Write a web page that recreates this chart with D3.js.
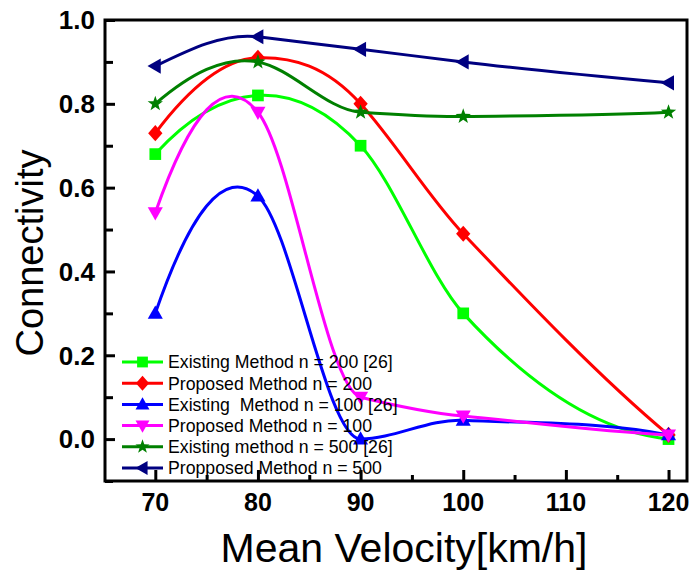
<!DOCTYPE html>
<html>
<head>
<meta charset="utf-8">
<script src="https://cdn.jsdelivr.net/npm/d3@7"></script>
<style>
  html, body { margin: 0; padding: 0; background: #fff; }
  svg { display: block; font-family: "Liberation Sans", Arial, Helvetica, sans-serif; }
  text { white-space: pre; }
</style>
</head>
<body>
<svg id="chart" width="691" height="576"></svg>
<script>
// ---- data ----
const velocities = [70, 80, 90, 100, 120];
const existing200 = [0.68, 0.82, 0.70, 0.30, 0.00];
const proposed200 = [0.73, 0.91, 0.80, 0.49, 0.01];
const existing100 = [0.30, 0.58, 0.00, 0.045, 0.01];
const proposed100 = [0.54, 0.78, 0.10, 0.055, 0.01];
const existing500 = [0.80, 0.90, 0.78, 0.77, 0.78];
const proposed500 = [0.89, 0.96, 0.93, 0.90, 0.85];
const seriesNames = [
  "Existing Method n = 200 [26]",
  "Proposed Method n = 200",
  "Existing  Method n = 100 [26]",
  "Proposed Method n = 100",
  "Existing method n = 500 [26]",
  "Propposed Method n = 500"
];
const xTicks = [70, 80, 90, 100, 110, 120];
const yTicks = [0.0, 0.2, 0.4, 0.6, 0.8, 1.0];

const seriesValues = [existing200, proposed200, existing100, proposed100, existing500, proposed500];
const colors = ["#00ff00", "#ff0000", "#0000ff", "#ff00ff", "#008000", "#000080"];
const symbols = ["square", "diamond", "triUp", "triDown", "star", "triLeft"];

// ---- layout ----
const svg = d3.select("#chart");
const L = 105, R = 687, T = 20, B = 481;
const x = d3.scaleLinear().domain([65.1, 121.8]).range([L, R]);
const y = d3.scaleLinear().domain([-0.1, 1.0]).range([B, T]);

// Akima-style spline as a custom d3 curve (x-monotone points)
function AkimaCurve(context) { this._context = context; }
AkimaCurve.prototype = {
  areaStart() {}, areaEnd() {},
  lineStart() { this._xs = []; this._ys = []; },
  point(px, py) { this._xs.push(+px); this._ys.push(+py); },
  lineEnd() {
    const xs = this._xs, ys = this._ys, n = xs.length, ctx = this._context;
    if (!n) return;
    ctx.moveTo(xs[0], ys[0]);
    if (n < 3) { for (let i = 1; i < n; i++) ctx.lineTo(xs[i], ys[i]); return; }
    const ns = n - 1, m = new Array(ns + 4);
    for (let k = 0; k < ns; k++) m[k + 2] = (ys[k + 1] - ys[k]) / (xs[k + 1] - xs[k]);
    m[1] = 2 * m[2] - m[3]; m[0] = 2 * m[1] - m[2];
    m[ns + 2] = 2 * m[ns + 1] - m[ns]; m[ns + 3] = 2 * m[ns + 2] - m[ns + 1];
    const tan = new Array(n);
    for (let i = 0; i < n; i++) {
      const mL2 = m[i], mL = m[i + 1], mR = m[i + 2], mR2 = m[i + 3];
      const w1 = Math.abs(mR2 - mR), w2 = Math.abs(mL - mL2);
      tan[i] = (w1 + w2) > 1e-12 ? (w1 * mL + w2 * mR) / (w1 + w2) : (mL + mR) / 2;
    }
    for (let i = 0; i < n - 1; i++) {
      const h = xs[i + 1] - xs[i];
      ctx.bezierCurveTo(xs[i] + h / 3, ys[i] + tan[i] * h / 3,
                        xs[i + 1] - h / 3, ys[i + 1] - tan[i + 1] * h / 3,
                        xs[i + 1], ys[i + 1]);
    }
  }
};
const akima = ctx => new AkimaCurve(ctx);

// marker paths
function markerPath(type, s) {
  const p = d3.path();
  switch (type) {
    case "square": p.rect(-s * 0.45, -s * 0.45, s * 0.9, s * 0.9); break;
    case "diamond": p.moveTo(0, -s * 0.62); p.lineTo(s * 0.55, 0); p.lineTo(0, s * 0.62); p.lineTo(-s * 0.55, 0); p.closePath(); break;
    case "triUp": p.moveTo(0, -s * 0.6); p.lineTo(s * 0.58, s * 0.42); p.lineTo(-s * 0.58, s * 0.42); p.closePath(); break;
    case "triDown": p.moveTo(0, s * 0.6); p.lineTo(s * 0.58, -s * 0.42); p.lineTo(-s * 0.58, -s * 0.42); p.closePath(); break;
    case "triLeft": p.moveTo(-s * 0.6, 0); p.lineTo(s * 0.42, -s * 0.58); p.lineTo(s * 0.42, s * 0.58); p.closePath(); break;
    case "star": {
      const ro = s * 0.62, ri = s * 0.25;
      for (let k = 0; k < 10; k++) {
        const r = k % 2 ? ri : ro, ang = -Math.PI / 2 + k * Math.PI / 5;
        const px = r * Math.cos(ang), py = r * Math.sin(ang);
        if (k === 0) p.moveTo(px, py); else p.lineTo(px, py);
      }
      p.closePath(); break;
    }
  }
  return p.toString();
}

const line = d3.line().x(d => x(d[0])).y(d => y(d[1])).curve(akima);

// series
seriesValues.forEach((vals, si) => {
  const pts = velocities.map((v, i) => [v, vals[i]]);
  const g = svg.append("g");
  g.append("path").attr("d", line(pts)).attr("fill", "none")
    .attr("stroke", colors[si]).attr("stroke-width", 3);
  g.selectAll("path.m").data(pts).enter().append("path").attr("class", "m")
    .attr("transform", d => `translate(${x(d[0])},${y(d[1])})`)
    .attr("d", markerPath(symbols[si], 13))
    .attr("fill", colors[si]);
});

// frame
svg.append("rect").attr("x", L).attr("y", T).attr("width", R - L).attr("height", B - T)
  .attr("fill", "none").attr("stroke", "#000").attr("stroke-width", 3);

// ticks (inside) via d3 axes
const xAxisMajor = d3.axisTop(x).tickValues(xTicks).tickSize(11).tickFormat("");
const xAxisMinor = d3.axisTop(x).tickValues(d3.range(75, 121, 10)).tickSize(6).tickFormat("");
[xAxisMajor, xAxisMinor].forEach(ax => {
  const g = svg.append("g").attr("transform", `translate(0,${B})`).call(ax);
  g.select(".domain").remove();
  g.selectAll("line").attr("stroke", "#000").attr("stroke-width", 3);
});
const yAxisMajor = d3.axisRight(y).tickValues(yTicks).tickSize(10).tickFormat("");
const yAxisMinor = d3.axisRight(y).tickValues([-0.1, 0.1, 0.3, 0.5, 0.7, 0.9]).tickSize(8).tickFormat("");
[yAxisMajor, yAxisMinor].forEach(ax => {
  const g = svg.append("g").attr("transform", `translate(${L},0)`).call(ax);
  g.select(".domain").remove();
  g.selectAll("line").attr("stroke", "#000").attr("stroke-width", 3);
});

// tick labels
svg.append("g").selectAll("text").data(xTicks).enter().append("text")
  .attr("x", d => x(d)).attr("y", 511).attr("text-anchor", "middle")
  .attr("font-size", 25).attr("font-weight", "bold").text(d => d);
svg.append("g").selectAll("text").data(yTicks).enter().append("text")
  .attr("x", 95).attr("y", d => y(d)).attr("dy", "0.36em").attr("text-anchor", "end")
  .attr("font-size", 26).attr("font-weight", "bold").text(d => d.toFixed(1));

// axis titles
svg.append("text").attr("x", 404).attr("y", 562).attr("text-anchor", "middle")
  .attr("font-size", 41).text("Mean Velocity[km/h]");
svg.append("text").attr("transform", "translate(43,253) rotate(-90)").attr("text-anchor", "middle")
  .attr("font-size", 38).text("Connectivity");

// legend
const leg = svg.append("g");
seriesNames.forEach((name, i) => {
  const cy = 362 + i * 21.2;
  leg.append("line").attr("x1", 122).attr("x2", 163).attr("y1", cy).attr("y2", cy)
    .attr("stroke", colors[i]).attr("stroke-width", 3);
  leg.append("path").attr("transform", `translate(142.5,${cy})`)
    .attr("d", markerPath(symbols[i], 12)).attr("fill", colors[i]);
  leg.append("text").attr("x", 168).attr("y", cy).attr("dy", "0.36em")
    .attr("font-size", 17.7).text(name);
});
</script>
</body>
</html>
